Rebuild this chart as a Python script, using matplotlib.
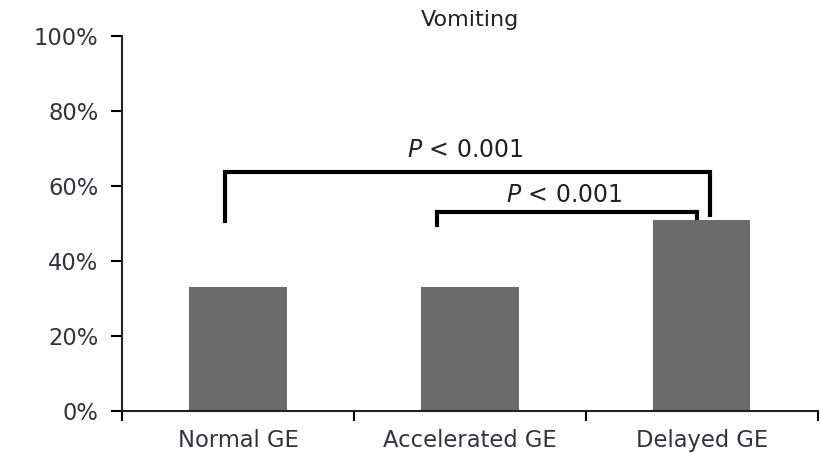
import matplotlib
matplotlib.use("Agg")
import matplotlib.pyplot as plt
from matplotlib.ticker import FixedLocator, FuncFormatter

plt.rcParams['font.family'] = ['DejaVu Sans']

categories = ["Normal GE", "Accelerated GE", "Delayed GE"]
values = [33, 33, 51]
yticks = [0, 20, 40, 60, 80, 100]
title = "Vomiting"
p_label = "$\\it{P}$ < 0.001"

fig = plt.figure(figsize=(8.21, 4.53), dpi=100)
ax = fig.add_axes([0.1486, 0.0927, 0.9960 - 0.1486, 0.9205 - 0.0927])

x = list(range(len(categories)))
ax.bar(x, values, width=0.42, color="#6b6b6b")
ax.set_xlim(-0.5, len(categories) - 0.5)
ax.set_ylim(0, 100)

ax.xaxis.set_major_locator(FixedLocator([i - 0.5 for i in range(len(categories) + 1)]))
ax.xaxis.set_major_formatter(FuncFormatter(lambda v, p: ""))
ax.xaxis.set_minor_locator(FixedLocator(x))
ax.set_xticklabels(categories, minor=True)
ax.tick_params(axis="x", which="minor", length=0, pad=13, labelsize=16.3, labelcolor="#333340")
ax.tick_params(axis="x", which="major", length=7, width=1.5, direction="out")

ax.set_yticks(yticks)
ax.set_yticklabels([f"{t}%" for t in yticks])
ax.tick_params(axis="y", length=8, width=1.5, direction="out", labelsize=16.3, labelcolor="#333340", pad=9)

for s in ["top", "right"]:
    ax.spines[s].set_visible(False)
for s in ["left", "bottom"]:
    ax.spines[s].set_linewidth(1.5)
    ax.spines[s].set_color("#222222")

ax.set_title(title, fontsize=16, color="#222222", pad=7)

# significance brackets
lw = 3
ax.plot([-0.056, -0.056, 2.034, 2.034], [50.7, 63.7, 63.7, 52.3], color="black", lw=lw, solid_joinstyle="miter", clip_on=False)
ax.text(0.98, 66.3, p_label, ha="center", va="bottom", fontsize=17, color="#222222")
ax.plot([0.858, 0.858, 1.978, 1.978], [49.6, 53, 53, 51.4], color="black", lw=lw, solid_joinstyle="miter", clip_on=False)
ax.text(1.405, 54.5, p_label, ha="center", va="bottom", fontsize=17, color="#222222")

fig.savefig("out.png", dpi=100)
